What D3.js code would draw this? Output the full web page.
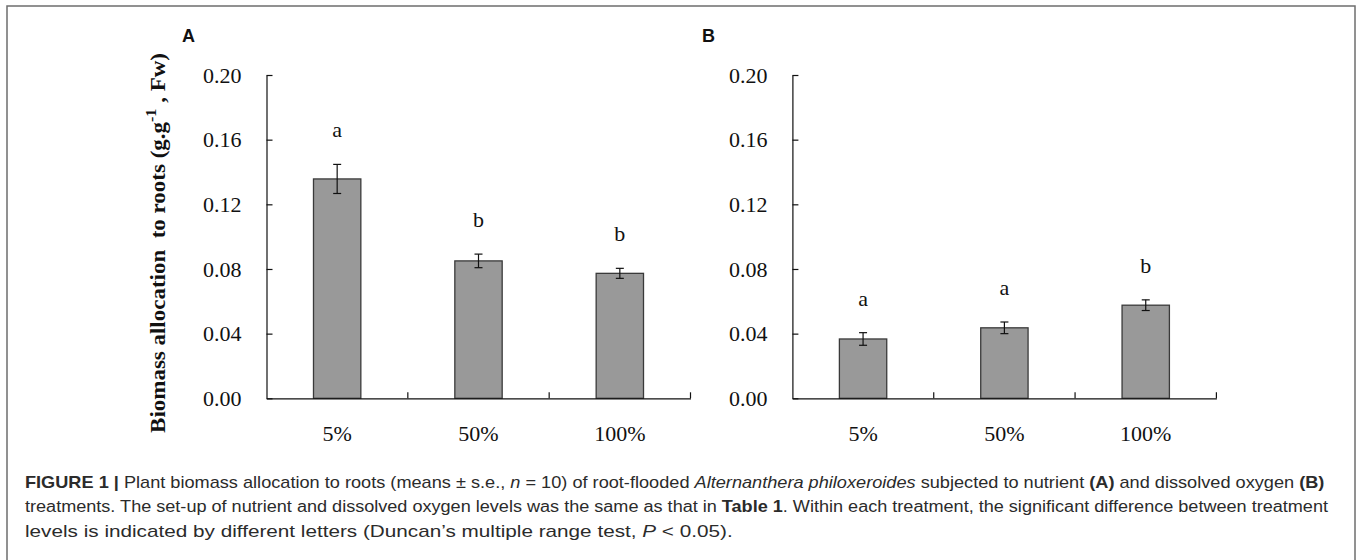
<!DOCTYPE html>
<html>
<head>
<meta charset="utf-8">
<script src="https://cdn.jsdelivr.net/npm/d3@7"></script>
<style>
  body { margin: 0; background: #fff; }
  svg { display: block; }
</style>
</head>
<body>
<svg id="fig" width="1358" height="560"></svg>
<script>
// treatment levels on the x axis
const levels = ["5%", "50%", "100%"];

// panel A: nutrient treatment
const meansA = [0.1357, 0.0850, 0.0773];
const seA = [0.0090, 0.0042, 0.0031];
const lettersA = ["a", "b", "b"];

// panel B: dissolved oxygen treatment
const meansB = [0.0367, 0.0436, 0.0576];
const seB = [0.0039, 0.0036, 0.0033];
const lettersB = ["a", "a", "b"];

const yTicks = [0, 0.04, 0.08, 0.12, 0.16, 0.20];

const svg = d3.select('#fig');
const serif = '"Liberation Serif", "Times New Roman", serif';
const sans = '"Liberation Sans", Arial, sans-serif';

// outer frame
svg.append('rect')
  .attr('x', 7).attr('y', 6)
  .attr('width', 1348).attr('height', 600)
  .style('fill', 'none')
  .style('stroke', '#6e6e6e')
  .style('stroke-width', 1.5);

const y = d3.scaleLinear().domain([0, 0.2]).range([398.3, 75]);

function drawPanel(x0, means, se, letters, label, labelX){
  const x = d3.scaleBand()
              .domain(levels)
              .range([x0, x0 + 424])
              .paddingInner(0.665)
              .paddingOuter(0.3325);

  const g = svg.append('g').attr('class', 'panel');

  const rows = levels.map((d, i) => ({lvl: d, m: means[i], e: se[i], l: letters[i]}));

  g.selectAll('rect.bar')
    .data(rows)
    .enter()
    .append('rect')
    .attr('class', 'bar')
    .attr('x', d => x(d.lvl))
    .attr('width', x.bandwidth())
    .attr('y', d => y(d.m))
    .attr('height', d => y(0) - y(d.m))
    .style('fill', '#999999')
    .style('stroke', '#3a3a3a')
    .style('stroke-width', 1.3);

  // error bars
  const eb = g.selectAll('g.err')
    .data(rows)
    .enter()
    .append('g')
    .attr('class', 'err')
    .style('stroke', '#111')
    .style('stroke-width', 1.2);
  const cx = d => x(d.lvl) + x.bandwidth() / 2;
  eb.append('line')
    .attr('x1', cx).attr('x2', cx)
    .attr('y1', d => y(d.m + d.e)).attr('y2', d => y(d.m - d.e));
  eb.append('line')
    .attr('x1', d => cx(d) - 4).attr('x2', d => cx(d) + 4)
    .attr('y1', d => y(d.m + d.e)).attr('y2', d => y(d.m + d.e));
  eb.append('line')
    .attr('x1', d => cx(d) - 4).attr('x2', d => cx(d) + 4)
    .attr('y1', d => y(d.m - d.e)).attr('y2', d => y(d.m - d.e));

  // significance letters
  g.selectAll('text.sig')
    .data(rows)
    .enter()
    .append('text')
    .attr('class', 'sig')
    .attr('x', cx)
    .attr('y', d => y(d.m + d.e) - 27)
    .attr('text-anchor', 'middle')
    .style('font-family', serif)
    .style('font-size', '22px')
    .style('fill', '#111')
    .text(d => d.l);

  // y axis, ticks pointing inside
  const yAx = g.append('g')
    .attr('transform', `translate(${x0},0)`)
    .call(d3.axisLeft(y).tickValues(yTicks).tickFormat(d3.format('.2f'))
            .tickSizeInner(-6).tickSizeOuter(0).tickPadding(25));

  // x axis, labels at band centres
  const xAx = g.append('g')
    .attr('transform', `translate(0,${y(0)})`)
    .call(d3.axisBottom(x).tickSize(0).tickSizeOuter(0).tickPadding(27.5));

  [yAx, xAx].forEach(a => {
    a.select('.domain').style('stroke', '#111').style('stroke-width', 1.2);
    a.selectAll('.tick line').style('stroke', '#111').style('stroke-width', 1.2);
    a.selectAll('.tick text')
      .style('font-family', serif)
      .style('font-size', '22px')
      .style('fill', '#111');
  });

  // category boundary ticks, pointing up
  g.selectAll('line.bnd')
    .data(levels)
    .enter()
    .append('line')
    .attr('class', 'bnd')
    .attr('x1', (d, i) => x0 + x.step() * (i + 1))
    .attr('x2', (d, i) => x0 + x.step() * (i + 1))
    .attr('y1', y(0) - 6)
    .attr('y2', y(0))
    .style('stroke', '#111')
    .style('stroke-width', 1.2);

  svg.append('text')
    .attr('x', labelX)
    .attr('y', 42)
    .style('font-family', sans)
    .style('font-weight', 'bold')
    .style('font-size', '18px')
    .style('fill', '#111')
    .text(label);
}

drawPanel(266.5, meansA, seA, lettersA, 'A', 182);
drawPanel(792.4, meansB, seB, lettersB, 'B', 702);

// y axis title, stretched along its length like the source image
const yt = svg.append('text')
  .attr('text-anchor', 'middle')
  .style('font-family', serif)
  .style('font-weight', 'bold')
  .style('font-size', '20px')
  .style('fill', '#111');
yt.append('tspan').text('Biomass allocation\u00a0 to roots (g.g');
yt.append('tspan').attr('dy', -9).style('font-size', '14px').text('-1');
yt.append('tspan').attr('dy', 9).text(' , Fw)');
const ytLen = yt.node().getComputedTextLength();
yt.attr('transform', `translate(165,243) rotate(-90) scale(${380 / ytLen},1)`);

// caption
const capLines = [
  [["FIGURE 1 | ", "b"], ["Plant biomass allocation to roots (means \u00b1 s.e., ", ""], ["n", "i"], [" = 10) of root-flooded ", ""],
   ["Alternanthera philoxeroides", "i"], [" subjected to nutrient ", ""], ["(A)", "b"], [" and dissolved oxygen ", ""], ["(B)", "b"]],
  [["treatments. The set-up of nutrient and dissolved oxygen levels was the same as that in ", ""], ["Table 1", "b"],
   [". Within each treatment, the significant difference between treatment", ""]],
  [["levels is indicated by different letters (Duncan\u2019s multiple range test, ", ""], ["P", "i"], [" < 0.05).", ""]]
];
const capY = [488, 512.5, 537];
const capW = [1300, 1304, 708];

capLines.forEach((line, i) => {
  const t = svg.append('text')
    .attr('x', 25)
    .attr('y', capY[i])
    .style('font-family', sans)
    .style('font-size', '16px')
    .style('fill', '#2b2b2b')
    .attr('xml:space', 'preserve');
  line.forEach(([s, f]) => {
    t.append('tspan')
      .style('font-weight', f === 'b' ? 'bold' : 'normal')
      .style('font-style', f === 'i' ? 'italic' : 'normal')
      .text(s);
  });
  const w = t.node().getComputedTextLength();
  const k = capW[i] / w;
  t.attr('transform', `translate(25,0) scale(${k},1) translate(-25,0)`);
});
</script>
</body>
</html>
